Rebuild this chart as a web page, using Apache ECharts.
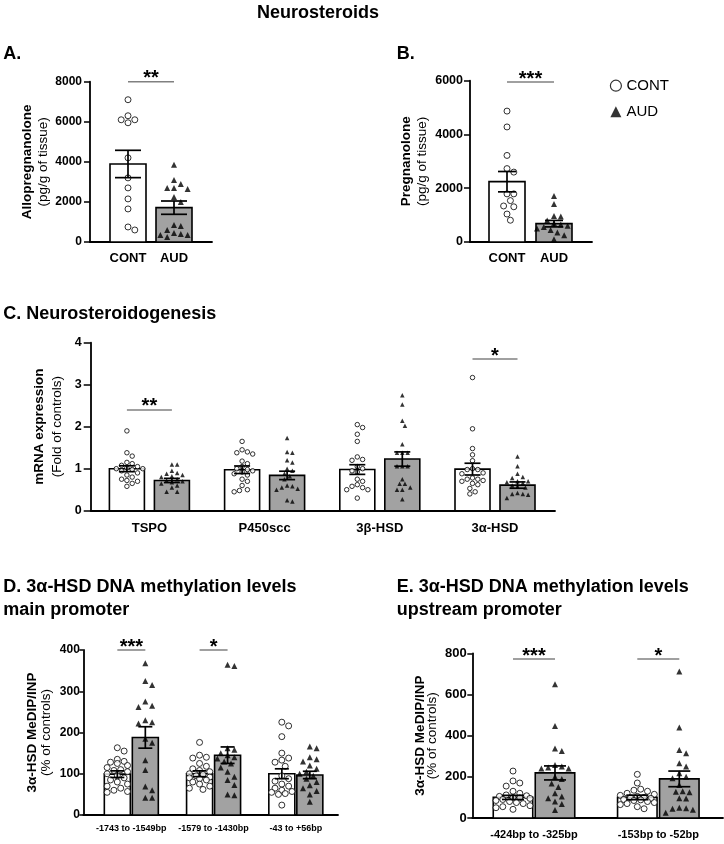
<!DOCTYPE html>
<html><head><meta charset="utf-8">
<script src="https://cdn.jsdelivr.net/npm/echarts@6/dist/echarts.min.js"></script>
<style>html,body{margin:0;padding:0;background:#fff}#c{width:724px;height:844px}</style>
</head><body><div id="c"></div><script>
const FONT = '"Liberation Sans", Arial, Helvetica, sans-serif';
const GRAY = '#a2a2a2';

// ---- A. Allopregnanolone
const catsA = ['CONT', 'AUD'];
const alloCont = [7100, 6300, 6100, 6100, 5950, 4200, 3200, 2700, 2150, 1650, 750, 600];
const alloAud = [3850, 3100, 2900, 2700, 2700, 2650, 2250, 2000, 850, 800, 600, 450, 400, 350, 350, 250];
const alloMean = [3894, 1714];
const alloSem = [682, 332];
const sigA = [8000], sigTextA = ['**'];

// ---- B. Pregnanolone
const catsB = ['CONT', 'AUD'];
const pregCont = [4870, 4280, 3220, 2730, 2600, 1790, 1790, 1540, 1340, 1310, 1040, 810];
const pregAud = [1710, 1410, 970, 950, 800, 700, 650, 600, 560, 500, 450, 350, 250, 100];
const pregMean = [2244, 682];
const pregSem = [378, 120];
const sigB = [5950], sigTextB = ['***'];

// ---- C. Neurosteroidogenesis
const catsC = ['TSPO', 'P450scc', '3β-HSD', '3α-HSD'];
const tspoCont = [1.9, 1.38, 1.3, 1.15, 1.12, 1.08, 1.05, 1.02, 1.0, 1.0, 0.98, 0.95, 0.9, 0.85, 0.8, 0.75, 0.72, 0.7, 0.65, 0.58];
const tspoAud = [1.1, 1.1, 0.95, 0.9, 0.88, 0.85, 0.82, 0.8, 0.75, 0.72, 0.7, 0.68, 0.65, 0.6, 0.55, 0.45, 0.45];
const p450Cont = [1.65, 1.45, 1.4, 1.38, 1.35, 1.18, 1.12, 1.05, 1.0, 0.98, 0.95, 0.92, 0.88, 0.85, 0.75, 0.7, 0.6, 0.5, 0.48, 0.45];
const p450Aud = [1.73, 1.4, 1.38, 1.2, 1.15, 1.0, 0.95, 0.88, 0.82, 0.75, 0.6, 0.58, 0.55, 0.52, 0.5, 0.25, 0.22];
const hsd3bCont = [2.05, 1.98, 1.82, 1.65, 1.28, 1.22, 1.2, 1.05, 1.0, 0.95, 0.92, 0.75, 0.7, 0.62, 0.58, 0.55, 0.5, 0.5, 0.3];
const hsd3bAud = [2.75, 2.53, 2.14, 2.02, 1.58, 1.38, 1.38, 1.38, 1.06, 1.06, 1.06, 0.75, 0.64, 0.64, 0.55, 0.5, 0.5, 0.27];
const hsd3aCont = [3.17, 1.95, 1.48, 1.33, 1.19, 1.0, 0.98, 0.98, 0.9, 0.88, 0.78, 0.75, 0.75, 0.72, 0.7, 0.65, 0.62, 0.53, 0.45, 0.4];
const hsd3aAud = [1.29, 1.06, 0.88, 0.8, 0.78, 0.7, 0.7, 0.68, 0.66, 0.6, 0.57, 0.55, 0.42, 0.4, 0.4, 0.38, 0.3];
const mrnaContMean = [1.0, 0.975, 0.98, 0.99];
const mrnaContSem = [0.07, 0.09, 0.115, 0.14];
const mrnaAudMean = [0.72, 0.84, 1.23, 0.61];
const mrnaAudSem = [0.05, 0.1, 0.17, 0.075];
const sigC = [2.4, 3.61], sigTextC = ['**', '*'], sigCatC = [0, 3];

// ---- D. main promoter
const catsD = ['-1743 to -1549bp', '-1579 to -1430bp', '-43 to +56bp'];
const d1Cont = [163, 155, 135, 130, 128, 125, 120, 115, 110, 108, 105, 100, 95, 90, 85, 80, 75, 70, 65, 60, 57, 55];
const d1Aud = [368, 325, 315, 275, 265, 262, 230, 225, 222, 185, 175, 133, 109, 69, 60, 42, 42];
const d2Cont = [176, 145, 140, 138, 125, 118, 112, 108, 105, 100, 98, 95, 92, 90, 88, 85, 80, 75, 70, 65, 62];
const d2Aud = [364, 361, 162, 158, 150, 145, 140, 137, 130, 125, 115, 105, 93, 85, 73, 50, 48];
const d3Cont = [225, 216, 190, 150, 138, 133, 128, 118, 95, 88, 82, 75, 70, 65, 60, 57, 55, 52, 50, 24];
const d3Aud = [166, 162, 140, 135, 130, 120, 112, 105, 100, 95, 88, 80, 72, 65, 58, 50, 32];
const dContMean = [99, 100, 100], dContSem = [8, 7, 12];
const dAudMean = [188, 145, 97], dAudSem = [26, 20, 9];
const sigD = [400, 400], sigTextD = ['***', '*'], sigCatD = [0, 1];

// ---- E. upstream promoter
const catsE = ['-424bp to -325bp', '-153bp to -52bp'];
const e1Cont = [228, 180, 170, 155, 130, 120, 112, 108, 105, 100, 98, 95, 90, 85, 80, 75, 70, 60, 55, 50, 42];
const e1Aud = [650, 447, 338, 325, 258, 250, 245, 240, 240, 200, 190, 168, 150, 120, 104, 96, 80, 68, 39];
const e2Cont = [212, 170, 140, 135, 130, 120, 115, 110, 105, 100, 98, 95, 90, 88, 85, 80, 75, 70, 65, 55, 45];
const e2Aud = [711, 439, 330, 314, 266, 250, 217, 200, 193, 160, 130, 128, 125, 96, 95, 50, 47, 45, 40, 26];
const eContMean = [100, 100], eContSem = [10, 11];
const eAudMean = [219, 190], eAudSem = [34, 38];
const sigE = [772, 772], sigTextE = ['***', '*'], sigCatE = [0, 1];

// ---------- layout ----------
const panels = [
  { frame:{left:90, top:81.7, width:122, height:160.3}, data:{left:105, width:92},
    yMax:8000, step:2000, cats:catsA, nameB:'Allopregnanolone', nameR:'(pg/g of tissue)', nameGap:38, nameLH:16.7,
    tickLen:6, tickFont:12, tickMargin:8, catFont:13, catMargin:10, barW:36, gap:10, sym:6, cap:26,
    series:[
      {kind:'CONT', cat:[0], mean:[alloMean[0]], sem:[alloSem[0]], pts:[alloCont], side:0},
      {kind:'AUD', cat:[1], mean:[alloMean[1]], sem:[alloSem[1]], pts:[alloAud], side:0}],
    sig: sigA.map((y,k)=>({a:[0,0], b:[1,0], y, t:sigTextA[k]})) },
  { frame:{left:470, top:80.7, width:122, height:161.3}, data:{left:483.5, width:94},
    yMax:6000, step:2000, cats:catsB, nameB:'Pregnanolone', nameR:'(pg/g of tissue)', nameGap:40, nameLH:15.7,
    tickLen:6, tickFont:12.5, tickMargin:7, catFont:13, catMargin:10, barW:36, gap:10, sym:6, cap:18,
    series:[
      {kind:'CONT', cat:[0], mean:[pregMean[0]], sem:[pregSem[0]], pts:[pregCont], side:0},
      {kind:'AUD', cat:[1], mean:[pregMean[1]], sem:[pregSem[1]], pts:[pregAud], side:0}],
    sig: sigB.map((y,k)=>({a:[0,0], b:[1,0], y, t:sigTextB[k]})) },
  { frame:{left:90.7, top:342.7, width:464.3, height:168}, data:{left:91.8, width:460.8},
    yMax:4, step:1, cats:catsC, nameB:'mRNA expression', nameR:'(Fold of controls)', nameGap:19, nameLH:17.3,
    tickLen:7, tickFont:12.5, tickMargin:9, catFont:13, catMargin:11, barW:35, gap:10, sym:4.5, cap:16,
    series:[
      {kind:'CONT', cat:[0,1,2,3], mean:mrnaContMean, sem:mrnaContSem, pts:[tspoCont,p450Cont,hsd3bCont,hsd3aCont], side:-1},
      {kind:'AUD', cat:[0,1,2,3], mean:mrnaAudMean, sem:mrnaAudSem, pts:[tspoAud,p450Aud,hsd3bAud,hsd3aAud], side:1}],
    sig: sigC.map((y,k)=>({a:[sigCatC[k],-1], b:[sigCatC[k],1], y, t:sigTextC[k]})) },
  { frame:{left:83.3, top:650, width:254.7, height:165}, data:{left:90.2, width:246.75},
    yMax:400, step:100, cats:catsD, nameB:'3α-HSD MeDIP/INP', nameR:'(% of controls)', nameGap:29.5, nameLH:14.3,
    tickLen:4, tickFont:12, tickMargin:3.5, catFont:9, catMargin:9.5, barW:26, gap:2, sym:6, cap:14,
    series:[
      {kind:'CONT', cat:[0,1,2], mean:dContMean, sem:dContSem, pts:[d1Cont,d2Cont,d3Cont], side:-1},
      {kind:'AUD', cat:[0,1,2], mean:dAudMean, sem:dAudSem, pts:[d1Aud,d2Aud,d3Aud], side:1}],
    sig: sigD.map((y,k)=>({a:[sigCatD[k],-1], b:[sigCatD[k],1], y, t:sigTextD[k]})) },
  { frame:{left:472.3, top:653.3, width:250.7, height:164.7}, data:{left:471.85, width:248.6},
    yMax:800, step:200, cats:catsE, nameB:'3α-HSD MeDIP/INP', nameR:'(% of controls)', nameGap:33.8, nameLH:12.3,
    tickLen:5, tickFont:13, tickMargin:5.5, catFont:11, catMargin:11.5, barW:39.5, gap:2.5, sym:6, cap:22,
    series:[
      {kind:'CONT', cat:[0,1], mean:eContMean, sem:eContSem, pts:[e1Cont,e2Cont], side:-1},
      {kind:'AUD', cat:[0,1], mean:eAudMean, sem:eAudSem, pts:[e1Aud,e2Aud], side:1}],
    sig: sigE.map((y,k)=>({a:[sigCatE[k],-1], b:[sigCatE[k],1], y, t:sigTextE[k]})) }
];

// deterministic beeswarm: horizontal offsets (px) so that markers do not overlap
function swarm(vals, ppu, d, maxHalf) {
  const order = vals.map((v, i) => i).sort((a, b) => vals[b] - vals[a]);
  const placed = [], dx = new Array(vals.length).fill(0);
  const step = d * 0.5;
  for (const i of order) {
    const y = vals[i] * ppu;
    let best = null, bestScore = -1, bestX = 0;
    for (let k = 0; k < 60; k++) {
      const j = k === 0 ? 0 : (k % 2 ? (k + 1) / 2 : -k / 2);
      const x = j * step;
      if (Math.abs(x) > maxHalf) continue;
      let minD = Infinity;
      for (const p of placed) minD = Math.min(minD, Math.hypot(p[0] - x, p[1] - y));
      if (minD >= d) { best = x; break; }
      if (minD > bestScore) { bestScore = minD; bestX = x; }
    }
    if (best === null) best = bestX;
    dx[i] = best; placed.push([best, y]);
  }
  return dx;
}

const grid = [], xAxis = [], yAxis = [], series = [];
const lineW = 1.8;
panels.forEach((p, i) => {
  const f = 2 * i, d = 2 * i + 1;
  const off = (p.barW + p.gap) / 2;
  const ppu = p.frame.height / p.yMax;
  grid.push({left:p.frame.left, top:p.frame.top, width:p.frame.width, height:p.frame.height, containLabel:false, outerBoundsMode:'none'});
  grid.push({left:p.data.left, top:p.frame.top, width:p.data.width, height:p.frame.height, containLabel:false, outerBoundsMode:'none'});
  xAxis.push({gridIndex:f, type:'value', min:0, max:1, axisLine:{show:true, onZero:false, lineStyle:{color:'#000', width:lineW}},
    axisTick:{show:false}, axisLabel:{show:false}, splitLine:{show:false}});
  xAxis.push({gridIndex:d, type:'category', data:p.cats, boundaryGap:true, axisLine:{show:false}, axisTick:{show:false},
    axisLabel:{show:true, interval:0, color:'#000', fontFamily:FONT, fontWeight:'bold', fontSize:p.catFont, margin:p.catMargin},
    splitLine:{show:false}});
  yAxis.push({gridIndex:f, type:'value', min:0, max:p.yMax, interval:p.step,
    axisLine:{show:true, lineStyle:{color:'#000', width:lineW}},
    axisTick:{show:true, length:p.tickLen, lineStyle:{color:'#000', width:1.5}},
    axisLabel:{color:'#000', fontFamily:FONT, fontWeight:'bold', fontSize:p.tickFont, margin:p.tickMargin, formatter:v => String(v)},
    splitLine:{show:false},
    name:'{b|' + p.nameB + '}\n{r|' + p.nameR + '}', nameLocation:'middle', nameRotate:90, nameGap:p.nameGap,
    nameTextStyle:{color:'#000', fontFamily:FONT, rich:{
      b:{fontFamily:FONT, fontWeight:'bold', fontSize:13.5, lineHeight:p.nameLH, color:'#000'},
      r:{fontFamily:FONT, fontSize:13.5, lineHeight:p.nameLH, color:'#000'}}}});
  yAxis.push({gridIndex:d, type:'value', min:0, max:p.yMax, show:false});

  p.series.forEach(s => {
    const o = s.side * off;
    const isC = s.kind === 'CONT';
    series.push({type:'custom', xAxisIndex:d, yAxisIndex:d, z:2, silent:true, clip:false,
      data:s.cat.map((c, k) => [c, s.mean[k]]),
      renderItem:(params, api) => {
        const top = api.coord([api.value(0), api.value(1)]);
        const base = api.coord([api.value(0), 0]);
        return {type:'rect', shape:{x:top[0] + o - p.barW / 2, y:top[1], width:p.barW, height:base[1] - top[1]},
          style:{fill:isC ? '#fff' : GRAY, stroke:'#000', lineWidth:1.6}};
      }});
    const pts = [];
    s.cat.forEach((c, k) => {
      const vals = s.pts[k];
      const dx = swarm(vals, ppu, p.sym + 0.8, p.barW / 2 - 1);
      vals.forEach((v, j) => pts.push({value:[c, v], symbolOffset:[o + dx[j], 0]}));
    });
    series.push({type:'scatter', name:s.kind, xAxisIndex:d, yAxisIndex:d, z:4, silent:true,
      symbol:isC ? 'circle' : 'triangle', symbolSize:p.sym,
      itemStyle:isC ? {color:'#fff', borderColor:'#000', borderWidth:1} : {color:'#000'},
      data:pts});
    series.push({type:'custom', xAxisIndex:d, yAxisIndex:d, z:5, silent:true, clip:false,
      data:s.cat.map((c, k) => [c, s.mean[k], s.sem[k]]),
      renderItem:(params, api) => {
        const c = api.value(0), m = api.value(1), e = api.value(2);
        const hi = api.coord([c, m + e]), lo = api.coord([c, m - e]);
        const x = hi[0] + o, hw = p.cap / 2;
        const st = {stroke:'#000', lineWidth:1.7};
        return {type:'group', children:[
          {type:'line', shape:{x1:x, y1:hi[1], x2:x, y2:lo[1]}, style:st},
          {type:'line', shape:{x1:x - hw, y1:hi[1], x2:x + hw, y2:hi[1]}, style:st},
          {type:'line', shape:{x1:x - hw, y1:lo[1], x2:x + hw, y2:lo[1]}, style:st}]};
      }});
  });
  series.push({type:'custom', xAxisIndex:d, yAxisIndex:d, z:6, silent:true, clip:false,
    data:p.sig.map(s => [s.a[0], s.b[0], s.y]),
    renderItem:(params, api) => {
      const s = p.sig[params.dataIndex];
      const pa = api.coord([api.value(0), api.value(2)]);
      const pb = api.coord([api.value(1), api.value(2)]);
      const xa = pa[0] + s.a[1] * off, xb = pb[0] + s.b[1] * off;
      return {type:'group', children:[
        {type:'line', shape:{x1:xa, y1:pa[1], x2:xb, y2:pb[1]}, style:{stroke:'#808080', lineWidth:1.5}},
        {type:'text', x:(xa + xb) / 2, y:pa[1] - 3, style:{text:s.t, fill:'#000', font:'bold 20px ' + FONT, align:'center', verticalAlign:'middle'}}]};
    }});
});

const tStyle = {color:'#000', fontFamily:FONT, fontWeight:'bold', fontSize:18, lineHeight:23.3};
const option = {
  animation:false,
  backgroundColor:'#fff',
  title:[
    {text:'Neurosteroids', left:257, top:1, padding:0, textStyle:tStyle},
    {text:'A.', left:3.3, top:42, padding:0, textStyle:tStyle},
    {text:'B.', left:396.7, top:42, padding:0, textStyle:tStyle},
    {text:'C. Neurosteroidogenesis', left:3.3, top:302.5, padding:0, textStyle:tStyle},
    {text:'D. 3α-HSD DNA methylation levels\nmain promoter', left:3.3, top:575, padding:0, textStyle:tStyle},
    {text:'E. 3α-HSD DNA methylation levels\nupstream promoter', left:396.7, top:575, padding:0, textStyle:tStyle}
  ],
  legend:{orient:'vertical', left:609.8, top:78.2, padding:0, itemWidth:11, itemHeight:11, itemGap:11, selectedMode:false,
    textStyle:{color:'#000', fontFamily:FONT, fontSize:15, lineHeight:15},
    data:[
      {name:'CONT', icon:'circle', itemStyle:{color:'#fff', borderColor:'#000', borderWidth:1.2}},
      {name:'AUD', icon:'triangle', itemStyle:{color:'#000', borderWidth:0}}]},
  grid, xAxis, yAxis, series
};
const chart = echarts.init(document.getElementById('c'), null, {renderer:'canvas', width:724, height:844});
chart.setOption(option);
</script></body></html>
